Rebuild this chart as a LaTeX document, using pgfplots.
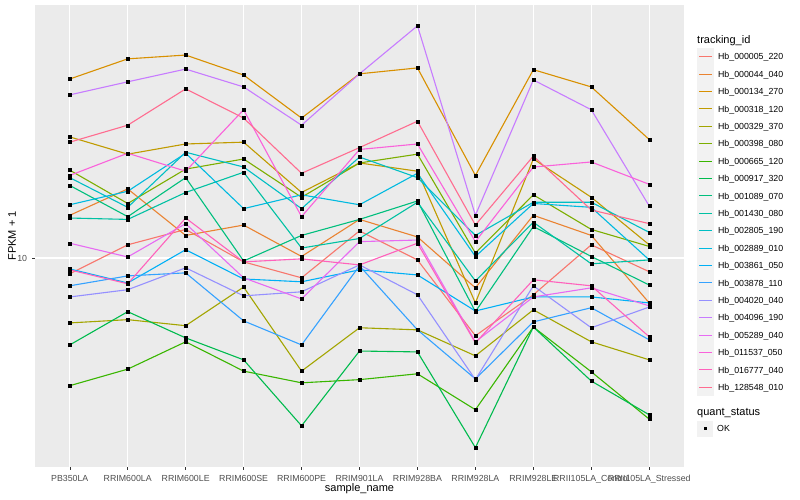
\documentclass[border=0pt]{standalone}
\usepackage{pgfplots}
\pgfplotsset{compat=1.18}
\usepackage{pgfplotstable}
\usepackage{fontspec}
\setmainfont{Liberation Sans}

% ggplot hue palette, 20 levels
\definecolor{c1}{HTML}{F8766D}
\definecolor{c2}{HTML}{EA8331}
\definecolor{c3}{HTML}{D89000}
\definecolor{c4}{HTML}{C09B00}
\definecolor{c5}{HTML}{A3A500}
\definecolor{c6}{HTML}{7CAE00}
\definecolor{c7}{HTML}{39B600}
\definecolor{c8}{HTML}{00BB4E}
\definecolor{c9}{HTML}{00BF7D}
\definecolor{c10}{HTML}{00C1A3}
\definecolor{c11}{HTML}{00BFC4}
\definecolor{c12}{HTML}{00BAE0}
\definecolor{c13}{HTML}{00B0F6}
\definecolor{c14}{HTML}{35A2FF}
\definecolor{c15}{HTML}{9590FF}
\definecolor{c16}{HTML}{C77CFF}
\definecolor{c17}{HTML}{E76BF3}
\definecolor{c18}{HTML}{FA62DB}
\definecolor{c19}{HTML}{FF62BC}
\definecolor{c20}{HTML}{FF6C90}
\definecolor{panel}{HTML}{EBEBEB}
\definecolor{keybg}{HTML}{F2F2F2}
\definecolor{gray30}{HTML}{4D4D4D}
\definecolor{gray20}{HTML}{333333}

% FPKM + 1, one row per sample, one column per tracking_id
\pgfplotstableread{
x  s1    s2    s3    s4    s5    s6    s7    s8    s9    s10   s11   s12   s13   s14   s15   s16   s17   s18   s19   s20
0  9.14  12.8  28.05 20.1  6.89  16.6  4.80  6.07  15.2  12.6  15.9  13.6  9.40  8.53  8.00  25.6  10.9  16.1  9.35  19.5
1  10.8  14.9  31.5  18.2  7.02  13.7  5.28  7.35  12.7  12.5  13.4  14.7  8.67  9.03  8.34  27.6  10.07 18.3  8.63  21.5
2  11.8  11.4  32.2  19.3  6.78  16.7  6.18  6.32  15.9  14.6  18.4  18.3  10.5  9.19  9.46  29.7  12.2  16.5  12.6  26.5
3  9.79  12.1  28.7  19.5  8.47  17.7  5.22  5.57  9.84  16.4  16.9  13.3  8.87  6.97  8.05  26.8  8.93  23.5  9.79  22.4
4  8.93  10.1  22.4  14.6  5.22  14.2  4.88  3.81  11.4  10.6  13.3  14.4  8.73  6.07  8.24  21.5  7.91  12.7  9.96  16.3
5  11.7  12.5  28.9  17.3  6.70  17.3  4.97  5.86  12.5  11.2  17.9  13.6  9.35  9.57  9.62  28.9  11.0  18.7  9.62  18.9
6  9.90  11.3  29.9  16.5  6.62  18.2  5.14  5.83  13.9  13.8  15.9  16.3  9.08  6.62  8.10  38.1  11.1  19.3  10.9  22.0
7  6.40  8.43  16.1  7.73  5.70  10.3  4.18  3.36  7.35  8.77  11.4  10.1  7.38  4.99  4.97  12.8  6.18  11.0  6.14  12.1
8  8.10  12.8  29.6  17.7  7.43  14.4  6.73  6.73  12.0  12.3  13.8  13.7  8.00  6.93  8.53  27.9  8.00  16.9  8.83  18.0
9  10.8  11.4  26.8  14.2  6.18  11.8  5.20  4.93  10.1  9.68  13.8  13.4  8.00  7.52  6.70  23.5  8.43  17.4  8.53  13.2
10 9.25  7.73  19.8  10.8  5.57  10.7  3.96  4.06  8.57  9.90  11.6  9.90  7.73  6.25  7.55  13.5  7.60  15.3  6.36  12.2
}\fpkm

\begin{document}
\begin{tikzpicture}
\path[use as bounding box] (0,0) rectangle (800pt,500pt);
\begin{axis}[
  at={(35pt,33pt)}, anchor=south west,
  scale only axis, width=649pt, height=462pt,
  ymode=log, ymin=3.006, ymax=42.95,
  xmin=-0.6, xmax=10.6,
  xtick={0,...,10},
  xticklabels={PB350LA,RRIM600LA,RRIM600LE,RRIM600SE,RRIM600PE,RRIM901LA,RRIM928BA,RRIM928LA,RRIM928LE,RRII105LA\_Control,RRII105LA\_Stressed},
  ytick={10}, yticklabels={10}, minor y tick num=0,
  axis background/.style={fill=panel},
  axis line style={draw=none},
  tick pos=left, tick align=outside, major tick length=2.75pt,
  tick style={gray20, line width=0.5pt},
  grid=major, major grid style={white, line width=1.4pt},
  /pgf/number format/assume math mode=true,
  ticklabel style={font=\fontsize{8.8}{10}\selectfont, text=gray30, inner sep=0pt},
  xticklabel style={yshift=-5pt},
  yticklabel style={xshift=-5pt},
  xlabel={sample\_name},
  ylabel={FPKM + 1},
  xlabel style={at={(axis description cs:0.5,-0.0476)}, anchor=center, font=\fontsize{11}{13}\selectfont},
  ylabel style={at={(axis description cs:-0.0354,0.5)}, anchor=center, font=\fontsize{11}{13}\selectfont},
  legend style={at={(1.02003,0.9069)}, anchor=north west, draw=none, fill=none,
    inner sep=0pt, outer sep=0pt, row sep=0pt, column sep=4pt,
    font=\fontsize{8.8}{10}\selectfont,
    nodes={inner sep=0pt, text height=6.3pt, text depth=0pt}},
  legend cell align=left,
  legend image code/.code={
    \fill[keybg] (0pt,-8.15pt) rectangle (16pt,8.15pt);
    \draw[#1, line width=1.1pt] (1.6pt,0pt) -- (14.4pt,0pt);
  },
  legend entries={Hb\_000005\_220,Hb\_000044\_040,Hb\_000134\_270,Hb\_000318\_120,Hb\_000329\_370,Hb\_000398\_080,Hb\_000665\_120,Hb\_000917\_320,Hb\_001089\_070,Hb\_001430\_080,Hb\_002805\_190,Hb\_002889\_010,Hb\_003861\_050,Hb\_003878\_110,Hb\_004020\_040,Hb\_004096\_190,Hb\_005289\_040,Hb\_011537\_050,Hb\_016777\_040,Hb\_128548\_010},
]
% lines first, one per tracking_id
\pgfplotsinvokeforeach{1,...,20}{
  \addplot[color=c#1, line width=1.1pt, mark=none] table[x=x, y=s#1] {\fpkm};
}
% then the black points (quant_status = OK) on top of every line
\pgfplotsinvokeforeach{1,...,20}{
  \addplot[forget plot, only marks, mark=square*, mark size=1.5pt, black] table[x=x, y=s#1] {\fpkm};
}
\end{axis}

% legend titles and the quant_status key
\node[anchor=west, inner sep=0pt, font=\fontsize{11}{13}\selectfont] at (697pt,459.3pt) {tracking\_id};
\node[anchor=west, inner sep=0pt, font=\fontsize{11}{13}\selectfont] at (697pt,87.3pt) {quant\_status};
\fill[keybg] (697pt,63.3pt) rectangle (713pt,79.3pt);
\fill[black] (703.5pt,69.8pt) rectangle (706.5pt,72.8pt);
\node[anchor=west, inner sep=0pt, font=\fontsize{8.8}{10}\selectfont] at (717pt,71.3pt) {OK};
\end{tikzpicture}
\end{document}
